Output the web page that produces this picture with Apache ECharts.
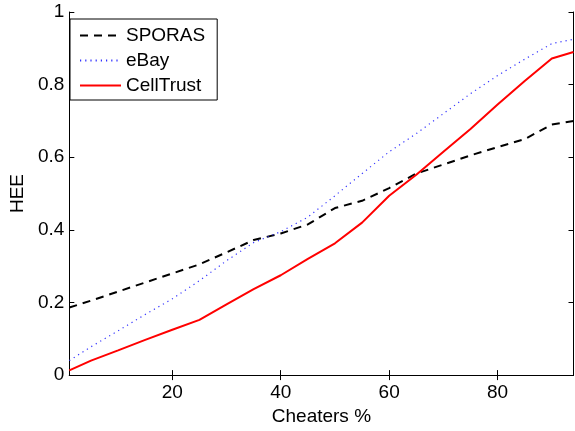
<!DOCTYPE html>
<html><head><meta charset="utf-8">
<script src="https://cdn.jsdelivr.net/npm/echarts@6/dist/echarts.min.js"></script>
<style>html,body{margin:0;padding:0;background:#fff}#c{width:575px;height:431px}</style>
</head><body><div id="c"></div>
<script>
const xValues = [1,5,10,15,20,25,30,35,40,45,50,55,60,65,70,75,80,85,90,94];
const sporas = [0.186,0.205,0.23,0.255,0.28,0.305,0.338,0.372,0.39,0.415,0.46,0.48,0.515,0.555,0.58,0.605,0.628,0.65,0.69,0.70];
const ebay = [0.04,0.078,0.122,0.167,0.21,0.26,0.315,0.365,0.395,0.435,0.494,0.555,0.615,0.665,0.72,0.775,0.825,0.87,0.913,0.925];
const celltrust = [0.013,0.04,0.068,0.097,0.125,0.152,0.195,0.237,0.275,0.32,0.363,0.42,0.494,0.552,0.615,0.678,0.745,0.81,0.872,0.89];
const xTicks = [20,40,60,80];
const seriesNames = ['SPORAS','eBay','CellTrust'];
const xName = 'Cheaters %';
const yName = 'HEE';

const font = 'Liberation Sans, Arial, Helvetica, sans-serif';
const pair = (ys) => xValues.map((x,i)=>[x, ys[i]]);
const chart = echarts.init(document.getElementById('c'), null, {renderer:'canvas'});
const axLine = {show:true, lineStyle:{color:'#000', width:1}};
chart.setOption({
  animation:false,
  backgroundColor:'#fff',
  grid:{left:65, right:1.5, top:12, bottom:48},
  legend:{
    orient:'vertical', left:70, top:19,
    data:seriesNames,
    itemWidth:41, itemHeight:14, itemGap:6,
    padding:[7,12,5,9],
    borderColor:'#000', borderWidth:1, backgroundColor:'#fff',
    itemStyle:{opacity:0},
    textStyle:{fontFamily:font, fontSize:19, color:'#000', padding:[0,0,0,0]},
    selectedMode:false
  },
  xAxis:[{
    type:'value', min:1, max:94, position:'bottom',
    name:xName, nameLocation:'middle', nameGap:27,
    nameTextStyle:{fontFamily:font, fontSize:19, color:'#000'},
    axisLine:axLine,
    axisTick:{show:true, inside:true, length:5, customValues:xTicks, lineStyle:{color:'#000'}},
    axisLabel:{show:true, customValues:xTicks, margin:8, fontFamily:font, fontSize:19, color:'#000'},
    splitLine:{show:false}
  },{
    type:'value', min:1, max:94, position:'top',
    axisLine:axLine,
    axisTick:{show:true, inside:true, length:5, customValues:xTicks, lineStyle:{color:'#000'}},
    axisLabel:{show:false}, splitLine:{show:false}
  }],
  yAxis:[{
    type:'value', min:0, max:1, interval:0.2, position:'left',
    name:yName, nameLocation:'middle', nameGap:40,
    nameTextStyle:{fontFamily:font, fontSize:19, color:'#000'},
    axisLine:axLine,
    axisTick:{show:true, inside:true, length:5, lineStyle:{color:'#000'}},
    axisLabel:{margin:5, fontFamily:font, fontSize:19, color:'#000'},
    splitLine:{show:false}
  },{
    type:'value', min:0, max:1, interval:0.2, position:'right',
    axisLine:axLine,
    axisTick:{show:true, inside:true, length:5, lineStyle:{color:'#000'}},
    axisLabel:{show:false}, splitLine:{show:false}
  }],
  series:[
    {name:seriesNames[0], type:'line', data:pair(sporas), symbol:'none',
     lineStyle:{color:'#000', width:2, type:[8,6]}, itemStyle:{color:'#000'}},
    {name:seriesNames[1], type:'line', data:pair(ebay), symbol:'none',
     lineStyle:{color:'#3333ff', width:1.2, type:[1.2,4]}, itemStyle:{color:'#3333ff'}},
    {name:seriesNames[2], type:'line', data:pair(celltrust), symbol:'none',
     lineStyle:{color:'#ff0000', width:2}, itemStyle:{color:'#ff0000'}}
  ]
});
</script></body></html>
